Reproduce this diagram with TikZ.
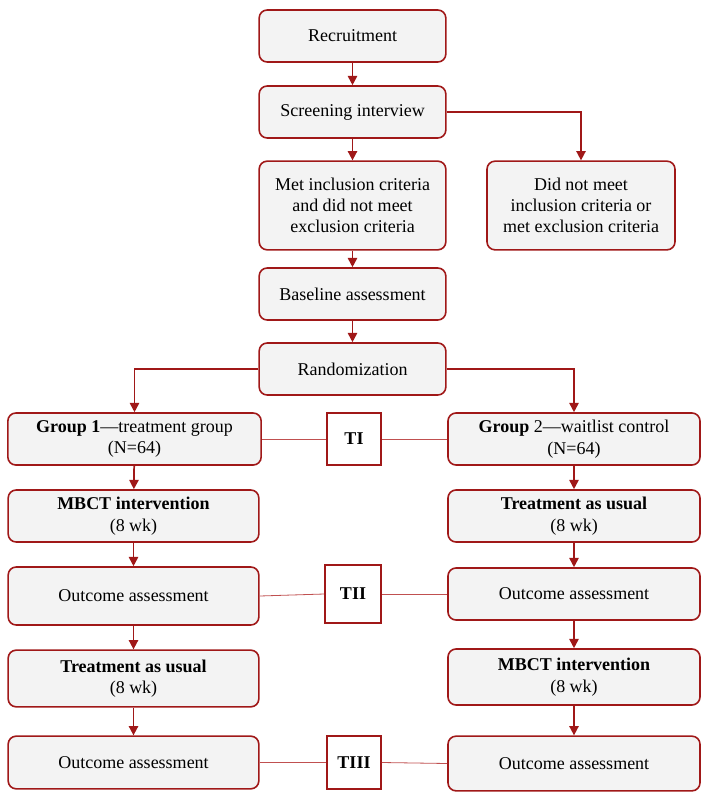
\documentclass[tikz,border=0pt]{standalone}
\usepackage{fontspec}
\setmainfont{Liberation Serif}
\usetikzlibrary{arrows.meta}
\definecolor{bord}{HTML}{A01818}
\definecolor{thin}{HTML}{C05050}
\definecolor{boxfill}{HTML}{F3F3F3}
\begin{document}
\begin{tikzpicture}[x=0.75pt,y=-0.75pt,
  box/.style={draw=bord,line width=1.2pt,fill=boxfill,rounded corners=6pt,align=center,inner sep=0pt,font=\fontsize{13.5}{16}\selectfont},
  tbox/.style={draw=bord,line width=1.2pt,fill=white,inner sep=0pt,font=\fontsize{13.5}{16}\selectfont\bfseries},
  arr/.style={draw=bord,line width=1.3pt,-{Triangle[length=7pt,width=7pt]}},
  link/.style={draw=thin,line width=0.6pt}]
\useasboundingbox (0,0) rectangle (710,800);
\node[box,minimum width=140pt,minimum height=39pt] (rec) at (352.5,36) {Recruitment};
\node[box,minimum width=140pt,minimum height=39pt] (scr) at (352.5,112) {Screening interview};
\node[box,minimum width=140pt,minimum height=66.5pt] (met) at (352.5,205.5) {Met inclusion criteria\\and did not meet\\exclusion criteria};
\node[box,minimum width=141pt,minimum height=66.5pt] (not) at (581,205.5) {Did not meet\\inclusion criteria or\\met exclusion criteria};
\node[box,minimum width=140pt,minimum height=39pt] (base) at (352.5,294) {Baseline assessment};
\node[box,minimum width=140pt,minimum height=39pt] (rand) at (352.5,369) {Randomization};
\node[box,minimum width=190pt,minimum height=39pt] (g1) at (134.5,439) {\textbf{Group 1}—treatment group\\(N=64)};
\node[tbox,minimum width=40.5pt,minimum height=39pt] (t1) at (354,439) {TI};
\node[box,minimum width=189pt,minimum height=39pt] (g2) at (574,439) {\textbf{Group} 2—waitlist control\\(N=64)};
\node[box,minimum width=188pt,minimum height=39pt] (m1) at (133.5,516) {\textbf{MBCT intervention}\\(8 wk)};
\node[box,minimum width=189pt,minimum height=39pt] (u2) at (574,516) {\textbf{Treatment as usual}\\(8 wk)};
\node[box,minimum width=188pt,minimum height=43.5pt] (o1) at (133.5,596) {Outcome assessment};
\node[tbox,minimum width=42pt,minimum height=43.5pt] (t2) at (353,594) {TII};
\node[box,minimum width=189pt,minimum height=39pt] (o2) at (574,594) {Outcome assessment};
\node[box,minimum width=188pt,minimum height=42.5pt] (u1) at (133.5,678.5) {\textbf{Treatment as usual}\\(8 wk)};
\node[box,minimum width=189pt,minimum height=42pt] (m2) at (574,677) {\textbf{MBCT intervention}\\(8 wk)};
\node[box,minimum width=188pt,minimum height=39.5pt] (oo1) at (133.5,762.5) {Outcome assessment};
\node[tbox,minimum width=40.5pt,minimum height=39.5pt] (t3) at (354,762.5) {TIII};
\node[box,minimum width=189pt,minimum height=41pt] (oo2) at (574,763.5) {Outcome assessment};
% arrows
\draw[arr] (rec) -- (scr);
\draw[arr] (scr) -- (met);
\draw[arr] (scr.east) -| (not.north);
\draw[arr] (met) -- (base);
\draw[arr] (base) -- (rand);
\draw[arr] (rand.west) -| (g1.north);
\draw[arr] (rand.east) -| (g2.north);
\draw[arr] (g1) -- (m1);
\draw[arr] (m1) -- (o1);
\draw[arr] (o1) -- (u1);
\draw[arr] (u1) -- (oo1);
\draw[arr] (g2) -- (u2);
\draw[arr] (u2) -- (o2);
\draw[arr] (o2) -- (m2);
\draw[arr] (m2) -- (oo2);
% links
\draw[link] (g1.east) -- (t1.west);
\draw[link] (t1.east) -- (g2.west);
\draw[link] (o1.east) -- (t2.west);
\draw[link] (t2.east) -- (o2.west);
\draw[link] (oo1.east) -- (t3.west);
\draw[link] (t3.east) -- (oo2.west);
\end{tikzpicture}
\end{document}
